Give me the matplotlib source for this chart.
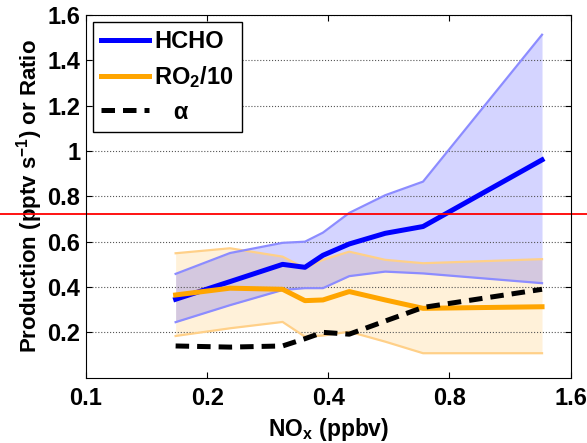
import numpy as np
import matplotlib.pyplot as plt
import matplotlib.transforms as mtransforms

plt.rcParams['font.family'] = ['Liberation Sans', 'DejaVu Sans']
plt.rcParams['font.weight'] = 'bold'
plt.rcParams['mathtext.default'] = 'bf'
plt.rcParams['mathtext.fontset'] = 'custom'
plt.rcParams['mathtext.bf'] = 'Liberation Sans:bold'

# NOx bins (ppbv)
nox = [0.167, 0.228, 0.308, 0.350, 0.388, 0.451, 0.554, 0.688, 1.359]

hcho_mean = [0.346, 0.424, 0.500, 0.487, 0.540, 0.590, 0.637, 0.667, 0.961]
hcho_hi   = [0.458, 0.550, 0.595, 0.600, 0.640, 0.727, 0.805, 0.865, 1.513]
hcho_lo   = [0.245, 0.320, 0.387, 0.395, 0.395, 0.448, 0.468, 0.460, 0.417]

ro2_mean = [0.365, 0.395, 0.390, 0.340, 0.343, 0.380, 0.343, 0.306, 0.313]
ro2_hi   = [0.549, 0.571, 0.534, 0.483, 0.520, 0.556, 0.520, 0.505, 0.523]
ro2_lo   = [0.184, 0.218, 0.246, 0.181, 0.186, 0.203, 0.159, 0.108, 0.108]

alpha_ratio = [0.140, 0.135, 0.140, 0.172, 0.200, 0.192, 0.250, 0.310, 0.390]

red_level = 0.723

fig = plt.figure(figsize=(5.87, 4.43), dpi=100)
ax = fig.add_axes([0.1465, 0.1474, 0.8255, 0.8187])

ax.fill_between(nox, ro2_lo, ro2_hi, color='orange', alpha=0.15, lw=0)
ax.fill_between(nox, hcho_lo, hcho_hi, color='blue', alpha=0.17, lw=0)
ax.plot(nox, ro2_hi, color='#ffd088', lw=1.6)
ax.plot(nox, ro2_lo, color='#ffd088', lw=1.6)
ax.plot(nox, hcho_hi, color='#8c8cff', lw=1.6)
ax.plot(nox, hcho_lo, color='#8c8cff', lw=1.6)

ax.plot(nox, hcho_mean, color='blue', lw=3.6, label='HCHO')
ax.plot(nox, ro2_mean, color='orange', lw=3.6, label='RO$_2$/10')
ax.plot(nox, alpha_ratio, color='black', lw=3.6, ls=(0, (2.7, 1.6)),
        label='   α')

ax.set_xscale('log')
ax.set_xlim(0.1, 1.6)
ax.set_ylim(0, 1.6)
ax.set_xticks([0.1, 0.2, 0.4, 0.8, 1.6])
ax.set_xticklabels(['0.1', '0.2', '0.4', '0.8', '1.6'])
ax.xaxis.set_minor_locator(plt.NullLocator())
ax.set_yticks([0.2, 0.4, 0.6, 0.8, 1.0, 1.2, 1.4, 1.6])
ax.set_yticklabels(['0.2', '0.4', '0.6', '0.8', '1', '1.2', '1.4', '1.6'])
ax.tick_params(direction='in', top=True, right=True, labelsize=17, length=4)
ax.tick_params(axis='x', pad=7)
ax.tick_params(axis='y', pad=4)
ax.yaxis.grid(True, ls=':', color='#555555', lw=0.8)

ax.set_xlabel('NO$_x$ (ppbv)', fontsize=16.5, fontweight='bold', labelpad=4)
ax.set_ylabel('Production (pptv s$^{-1}$) or Ratio', fontsize=16,
              fontweight='bold', labelpad=2)

leg = ax.legend(loc='upper left', fontsize=17, handlelength=2.0,
                handletextpad=0.25, fancybox=False, edgecolor='black',
                framealpha=1, borderaxespad=0.3, borderpad=0.35,
                labelspacing=0.45)
leg.get_frame().set_linewidth(1)

trans = mtransforms.blended_transform_factory(fig.transFigure, ax.transData)
ax.plot([0, 1], [red_level, red_level], color='red', lw=1.3,
        transform=trans, clip_on=False)

fig.savefig('out.png')
